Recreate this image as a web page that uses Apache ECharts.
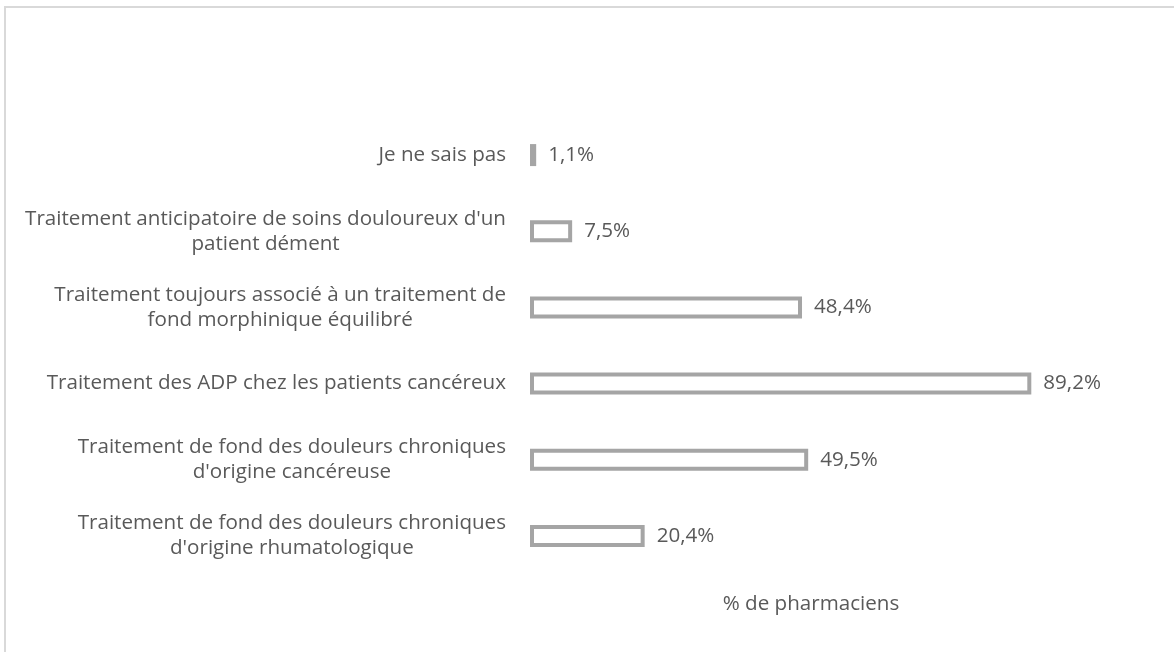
<!DOCTYPE html>
<html>
<head>
<meta charset="utf-8">
<script src="https://cdn.jsdelivr.net/npm/echarts@6/dist/echarts.min.js"></script>
<style>
  html, body { margin: 0; padding: 0; background: #fff; }
  #chart { width: 1174px; height: 652px; }
</style>
</head>
<body>
<div id="chart"></div>
<script>
// categories from bottom to top
var categories = [
    "Traitement de fond des douleurs chroniques\nd'origine rhumatologique",
    "Traitement de fond des douleurs chroniques\nd'origine cancéreuse",
    "Traitement des ADP chez les patients cancéreux",
    "Traitement toujours associé à un traitement de\nfond morphinique équilibré",
    "Traitement anticipatoire de soins douloureux d'un\npatient dément",
    "Je ne sais pas"
];
var values = [20.4, 49.5, 89.2, 48.4, 7.5, 1.1];
var axisTitle = '% de pharmaciens';

var myChart = echarts.init(document.getElementById('chart'));
var font = "'Open Sans', sans-serif";
var fs = 20.6;

var option = {
    backgroundColor: '#fff',
    animation: false,
    graphic: [{
        type: 'rect',
        shape: { x: 5, y: 7, width: 1300, height: 800 },
        style: { fill: 'none', stroke: '#d9d9d9', lineWidth: 2 },
        silent: true
    }],
    grid: { left: 530, right: 82, top: 117, bottom: 78 },
    xAxis: {
        type: 'value',
        min: 0,
        max: 100,
        axisLine: { show: false },
        axisTick: { show: false },
        axisLabel: { show: false },
        splitLine: { show: false },
        name: axisTitle,
        nameLocation: 'middle',
        nameGap: 20,
        nameTextStyle: { color: '#595959', fontSize: fs, fontFamily: font }
    },
    yAxis: {
        type: 'category',
        data: categories,
        axisLine: { show: false },
        axisTick: { show: false },
        axisLabel: {
            margin: 24,
            align: 'right',
            color: '#595959',
            fontSize: fs,
            fontFamily: font,
            lineHeight: 25,
            formatter: function (v) {
                return v.split('\n').map(function (s) { return '{c|' + s + '}'; }).join('\n');
            },
            rich: {
                c: { align: 'center', color: '#595959', fontSize: fs, fontFamily: font, lineHeight: 25 }
            }
        }
    },
    series: [{
        type: 'bar',
        data: values,
        barWidth: 22,
        itemStyle: { color: '#fff', borderColor: '#a5a5a5', borderWidth: 4 },
        label: {
            show: true,
            position: 'right',
            distance: 12,
            color: '#595959',
            fontSize: fs,
            fontFamily: font,
            formatter: function (p) { return p.value.toFixed(1).replace('.', ',') + '%'; }
        }
    }]
};
myChart.setOption(option);
window.addEventListener('resize', function () { myChart.resize(); });
</script>
</body>
</html>
